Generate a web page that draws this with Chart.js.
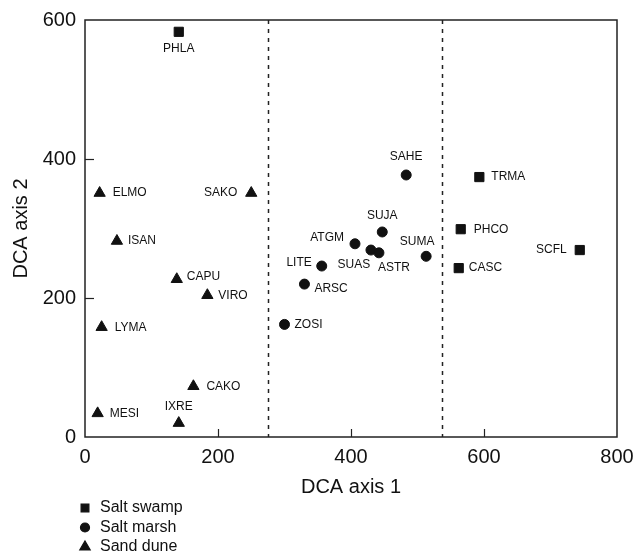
<!DOCTYPE html>
<html>
<head>
<meta charset="utf-8">
<script src="https://cdn.jsdelivr.net/npm/chart.js@4/dist/chart.umd.min.js"></script>
<style>
  html, body { margin: 0; padding: 0; background: #fff; }
  #wrap { width: 635px; height: 551px; }
</style>
</head>
<body>
<div id="wrap"><canvas id="grafico" width="635" height="551"></canvas></div>
<script>
// DADOS
const swampNomes = ["PHLA", "TRMA", "PHCO", "CASC", "SCFL"];
const swampX = [141, 593, 565, 562, 744];
const swampY = [583, 374, 299, 243, 269];

const marshNomes = ["SAHE", "SUJA", "ATGM", "SUAS", "ASTR", "SUMA", "LITE", "ARSC", "ZOSI"];
const marshX = [483, 447, 406, 430, 442, 513, 356, 330, 300];
const marshY = [377, 295, 278, 269, 265, 260, 246, 220, 162];

const duneNomes = ["ELMO", "SAKO", "ISAN", "CAPU", "VIRO", "LYMA", "CAKO", "MESI", "IXRE"];
const duneX = [22, 250, 48, 138, 184, 25, 163, 19, 141];
const duneY = [351, 351, 282, 227, 204, 158, 73, 34, 20];

const grupos = ["Salt swamp", "Salt marsh", "Sand dune"];
const divisores = [275, 537];           // linhas tracejadas em DCA axis 1
const ticksX = [0, 200, 400, 600, 800];
const ticksY = [0, 200, 400, 600];

// posição dos rótulos: [dx, dy, alinhamento]
const posRotulo = {
  PHLA: [0, 17, "center"], TRMA: [12, 0, "left"], PHCO: [13, 0, "left"],
  CASC: [10, 0, "left"], SCFL: [-13, 0, "right"],
  SAHE: [0, -18, "center"], SUJA: [0, -16, "center"], ATGM: [-11, -6, "right"],
  SUAS: [-17, 15, "center"], ASTR: [15, 15, "center"], SUMA: [-9, -15, "center"],
  LITE: [-10, -3, "right"], ARSC: [10, 5, "left"], ZOSI: [10, 0, "left"],
  ELMO: [13, 0, "left"], SAKO: [-14, 0, "right"], ISAN: [11, 0, "left"],
  CAPU: [10, -3, "left"], VIRO: [11, 0, "left"], LYMA: [13, 0, "left"],
  CAKO: [13, 0, "left"], MESI: [12, 0, "left"], IXRE: [0, -16, "center"]
};

const tinta = "#111";
const fonte = "'Liberation Sans', Arial, Helvetica, sans-serif";

function pontos(xs, ys, nomes) {
  return xs.map((x, i) => ({ x, y: ys[i], nome: nomes[i] }));
}

// plugin: moldura, marcas internas, tracejadas, rótulos e legenda
const extras = {
  id: "extras",
  afterDraw(chart) {
    const ctx = chart.ctx;
    const area = chart.chartArea;
    const sx = chart.scales.x;
    const sy = chart.scales.y;
    ctx.save();

    // linhas tracejadas
    ctx.strokeStyle = "#222";
    ctx.lineWidth = 1.5;
    ctx.setLineDash([4, 5]);
    divisores.forEach((v) => {
      const px = Math.round(sx.getPixelForValue(v)) + 0.5;
      ctx.beginPath();
      ctx.moveTo(px, area.top);
      ctx.lineTo(px, area.bottom);
      ctx.stroke();
    });
    ctx.setLineDash([]);

    // moldura
    ctx.strokeStyle = "#222";
    ctx.lineWidth = 1.5;
    ctx.strokeRect(area.left, area.top, area.right - area.left, area.bottom - area.top);

    // marcas para dentro
    ctx.lineWidth = 1.2;
    ticksX.slice(1, -1).forEach((v) => {
      const px = Math.round(sx.getPixelForValue(v)) + 0.5;
      ctx.beginPath();
      ctx.moveTo(px, area.bottom);
      ctx.lineTo(px, area.bottom - 8);
      ctx.stroke();
    });
    ticksY.slice(1, -1).forEach((v) => {
      const py = Math.round(sy.getPixelForValue(v)) + 0.5;
      ctx.beginPath();
      ctx.moveTo(area.left, py);
      ctx.lineTo(area.left + 9, py);
      ctx.stroke();
    });

    // rótulos dos pontos
    ctx.fillStyle = tinta;
    ctx.font = "12px " + fonte;
    ctx.textBaseline = "middle";
    chart.data.datasets.forEach((ds, di) => {
      const meta = chart.getDatasetMeta(di);
      meta.data.forEach((el, i) => {
        const nome = ds.data[i].nome;
        const p = posRotulo[nome] || [10, 0, "left"];
        ctx.textAlign = p[2];
        ctx.fillText(nome, el.x + p[0], el.y + p[1]);
      });
    });

    // legenda vertical
    ctx.font = "16px " + fonte;
    ctx.textAlign = "left";
    chart.data.datasets.forEach((ds, di) => {
      const y = 508 + di * 19.5;
      const estilo = {
        pointStyle: ds.pointStyle,
        radius: ds.pointStyle === "rect" ? 5.5 : (ds.pointStyle === "triangle" ? 6 : 4.5),
        rotation: 0,
        borderWidth: 1
      };
      ctx.fillStyle = tinta;
      ctx.strokeStyle = tinta;
      Chart.helpers.drawPoint(ctx, estilo, area.left, y);
      ctx.fillStyle = tinta;
      ctx.fillText(ds.label, area.left + 15, y);
    });

    ctx.restore();
  }
};

const ctx = document.getElementById("grafico");

new Chart(ctx, {
  type: "scatter",
  data: {
    datasets: [
      {
        label: grupos[0],
        data: pontos(swampX, swampY, swampNomes),
        pointStyle: "rect",
        pointRadius: 6.5,
        backgroundColor: tinta,
        borderColor: tinta,
        borderWidth: 1,
      },
      {
        label: grupos[1],
        data: pontos(marshX, marshY, marshNomes),
        pointStyle: "circle",
        pointRadius: 5,
        backgroundColor: tinta,
        borderColor: tinta,
        borderWidth: 1,
      },
      {
        label: grupos[2],
        data: pontos(duneX, duneY, duneNomes),
        pointStyle: "triangle",
        pointRadius: 6.5,
        backgroundColor: tinta,
        borderColor: tinta,
        borderWidth: 1,
      },
    ],
  },
  options: {
    responsive: false,
    animation: false,
    events: [],
    layout: { padding: { top: 20, right: 18, left: 0, bottom: 0 } },
    plugins: {
      legend: { display: false },
      tooltip: { enabled: false },
    },
    scales: {
      x: {
        type: "linear",
        min: 0,
        max: 800,
        afterBuildTicks: (s) => { s.ticks = ticksX.map((v) => ({ value: v })); },
        afterFit: (s) => { s.height = 114; s.paddingLeft = 0; s.paddingRight = 0; },
        grid: { display: false, drawTicks: false },
        border: { display: false },
        ticks: { color: tinta, font: { family: fonte, size: 20 }, padding: 8, maxRotation: 0 },
        title: {
          display: true,
          text: "DCA axis 1",
          color: tinta,
          font: { family: fonte, size: 20 },
          padding: { top: 0, bottom: 52 },
        },
      },
      y: {
        type: "linear",
        min: 0,
        max: 600,
        afterBuildTicks: (s) => { s.ticks = ticksY.map((v) => ({ value: v })); },
        afterFit: (s) => { s.width = 85; s.paddingTop = 0; s.paddingBottom = 0; },
        grid: { display: false, drawTicks: false },
        border: { display: false },
        ticks: { color: tinta, font: { family: fonte, size: 20 }, padding: 9 },
        title: {
          display: true,
          text: "DCA axis 2",
          color: tinta,
          font: { family: fonte, size: 20 },
          padding: { top: 9, bottom: 0 },
        },
      },
    },
  },
  plugins: [extras],
});
</script>
</body>
</html>
